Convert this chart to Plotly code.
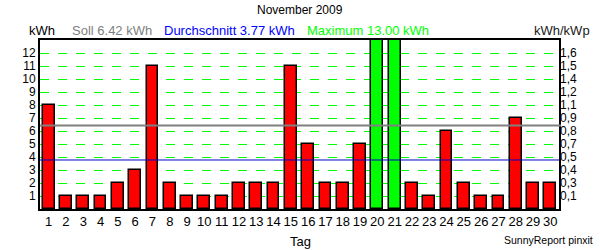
import plotly.graph_objects as go

days = list(range(1, 31))
energy_kwh = [8, 1, 1, 1, 2, 3, 11, 2, 1, 1, 1, 2, 2, 2, 11, 5, 2, 2, 5, 13, 13, 2, 1, 6, 2, 1, 1, 7, 2, 2]
max_days = [20, 21]
soll = 6.42
avg = 3.77
maximum = 13.00
left_ticks = list(range(1, 13))
right_tick_labels = ["0,1", "0,3", "0,4", "0,5", "0,7", "0,8", "0,9", "1,1", "1,2", "1,4", "1,5", "1,6"]

W, H = 600, 250
L, R, T, B = 40, 559, 40, 209
pw, ph = R - L, B - T

def px(x):
    return (x - L) / pw

def py(y):
    return (B - y) / ph

FONT = "Liberation Sans, Arial, sans-serif"
colors = ["#00FF00" if d in max_days else "#FF0000" for d in days]

fig = go.Figure()
fig.add_trace(go.Bar(x=days, y=energy_kwh, width=0.68,
                     marker=dict(color=colors, line=dict(color="black", width=1.5)),
                     showlegend=False))
fig.add_trace(go.Scatter(x=[None], y=[None], yaxis="y2", showlegend=False))

fig.add_shape(type="line", xref="paper", yref="y", x0=0, x1=1.004, y0=soll, y1=soll,
              line=dict(color="#808080", width=2), layer="above")
fig.add_shape(type="line", xref="paper", yref="y", x0=0, x1=1, y0=avg, y1=avg,
              line=dict(color="#0000C8", width=1), layer="above")

ann = [
    dict(text="November 2009", x=px(300), y=py(10), xanchor="center", size=12, color="black"),
    dict(text="kWh", x=px(27), y=py(31), xanchor="left", size=13, color="black"),
    dict(text="Soll %.2f kWh" % soll, x=px(70), y=py(31), xanchor="left", size=13, color="#808080"),
    dict(text="Durchschnitt %.2f kWh" % avg, x=px(162), y=py(31), xanchor="left", size=13, color="#0000FF"),
    dict(text="Maximum %.2f kWh" % maximum, x=px(305), y=py(31), xanchor="left", size=13, color="#00FF00"),
    dict(text="kWh/kWp", x=px(532), y=py(31), xanchor="left", size=13, color="#202020"),
    dict(text="Tag", x=px(300), y=py(241), xanchor="center", size=13, color="black"),
    dict(text="SunnyReport pinxit", x=px(595), y=py(240), xanchor="right", size=10.5, color="black"),
]
for a in ann:
    fig.add_annotation(text=a["text"], x=a["x"], y=a["y"], xref="paper", yref="paper",
                       xanchor=a["xanchor"], yanchor="middle", showarrow=False,
                       font=dict(family=FONT, size=a["size"], color=a["color"]))

fig.update_layout(
    width=W, height=H,
    margin=dict(l=L, r=W - R, t=T, b=H - B, pad=0),
    paper_bgcolor="white", plot_bgcolor="white",
    bargap=0,
    font=dict(family=FONT, size=13, color="black"),
    xaxis=dict(range=[0.5, 30.5], tickvals=days, ticktext=[str(d) for d in days],
               showgrid=False, zeroline=False, showline=True, mirror=True,
               linecolor="black", linewidth=2, ticks="", ticklabelstandoff=-1,
               tickfont=dict(size=13, color="black")),
    yaxis=dict(range=[0, 13], tickvals=left_ticks, ticktext=[str(v) for v in left_ticks],
               showgrid=True, gridcolor="#00FF00", griddash="dash", gridwidth=1,
               zeroline=False, showline=True, mirror=True, linecolor="black", linewidth=2,
               ticks="", tickfont=dict(size=12, color="black")),
    yaxis2=dict(range=[0, 13], overlaying="y", side="right", tickvals=left_ticks,
                ticktext=right_tick_labels, showgrid=False, zeroline=False,
                ticks="", tickfont=dict(size=12, color="black")),
)

fig.write_html("out.html")
